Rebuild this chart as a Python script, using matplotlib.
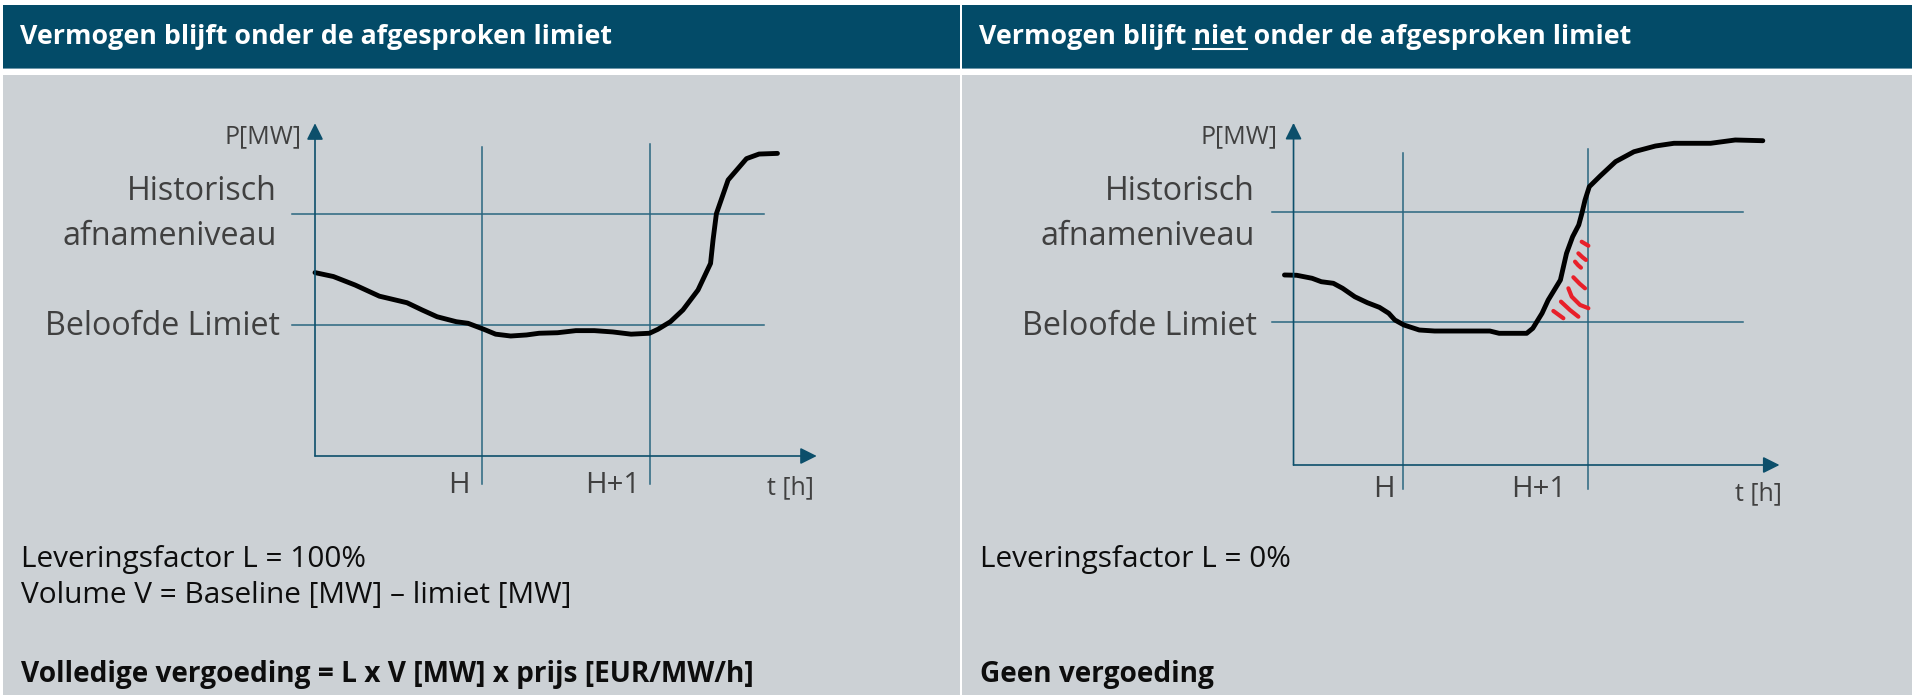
import matplotlib
matplotlib.use('Agg')
import matplotlib.pyplot as plt
from matplotlib.patches import Rectangle

HEADER = '#034b68'
GREY = '#ccd1d5'
LINE = '#2a6680'
AXIS = '#0c4f6b'
LABEL = '#404040'
RED = '#e8202a'

plt.rcParams['font.family'] = ['Open Sans', 'DejaVu Sans']

# --- data (t in hours, H = 1, H+1 = 2; P relative to the promised limit = 1) ---
titles = ["Vermogen blijft onder de afgesproken limiet",
          "Vermogen blijft niet onder de afgesproken limiet"]
time_labels = ["H", "H+1"]
time_marks = [1.0, 2.0]
level_labels = [["Historisch", "afnameniveau"], ["Beloofde Limiet"]]

left_levels = [1.85, 1.0]      # historisch, limiet
right_levels = [1.768, 1.0]

left_t = [0.00, 0.11, 0.24, 0.385, 0.55, 0.64, 0.73, 0.845, 0.915, 1.01, 1.08,
          1.17, 1.265, 1.34, 1.45, 1.56, 1.67, 1.78, 1.89, 2.0, 2.05, 2.125,
          2.20, 2.29, 2.365, 2.38, 2.40, 2.47, 2.58, 2.655, 2.765]
left_p = [1.40, 1.37, 1.305, 1.22, 1.17, 1.115, 1.063, 1.025, 1.013, 0.967, 0.93,
          0.916, 0.924, 0.937, 0.941, 0.957, 0.957, 0.947, 0.93, 0.937, 0.967, 1.025,
          1.115, 1.267, 1.47, 1.65, 1.85, 2.107, 2.27, 2.305, 2.31]

right_t = [0.361, 0.427, 0.51, 0.56, 0.625, 0.675, 0.741, 0.808, 0.874, 0.924,
           0.957, 1.006, 1.089, 1.172, 1.305, 1.47, 1.52, 1.669, 1.702, 1.752,
           1.785, 1.851, 1.884, 1.917, 1.95, 1.967, 1.984, 2.007, 2.066, 2.149,
           2.248, 2.364, 2.464, 2.662, 2.795, 2.944]
right_p = [1.326, 1.324, 1.303, 1.279, 1.268, 1.233, 1.174, 1.133, 1.10, 1.059,
           1.012, 0.977, 0.942, 0.935, 0.935, 0.935, 0.919, 0.919, 0.954, 1.059,
           1.151, 1.291, 1.477, 1.593, 1.675, 1.756, 1.849, 1.942, 2.017, 2.117,
           2.186, 2.226, 2.245, 2.245, 2.268, 2.263]

# red hatch strokes between curve and H+1 (right panel)
hatch_t = [[1.966, 2.002], [1.948, 1.970, 1.989], [1.930, 1.946, 1.962],
           [1.921, 1.955, 1.984], [1.894, 1.912, 1.957, 2.002],
           [1.854, 1.903, 1.948], [1.813, 1.867]]
hatch_p = [[1.558, 1.530], [1.477, 1.450, 1.431], [1.419, 1.395, 1.377],
           [1.310, 1.265, 1.233], [1.233, 1.175, 1.117, 1.094],
           [1.140, 1.081, 1.035], [1.075, 1.024]]

bottom_left = ["Leveringsfactor L = 100%", "Volume V = Baseline [MW] \u2013 limiet [MW]"]
bottom_left_bold = "Volledige vergoeding = L x V [MW] x prijs [EUR/MW/h]"
bottom_right = ["Leveringsfactor L = 0%"]
bottom_right_bold = "Geen vergoeding"

W, H = 1912, 695
fig = plt.figure(figsize=(W / 100, H / 100), dpi=100)
bg = fig.add_axes([0, 0, 1, 1])
bg.set_xlim(0, W)
bg.set_ylim(H, 0)
bg.axis('off')
renderer = fig.canvas.get_renderer()


def text_width(s, size, weight='normal'):
    t = bg.text(0, 0, s, fontsize=size, fontweight=weight)
    w = t.get_window_extent(renderer).width
    t.remove()
    return w


def fit_size(s, width_px, weight='normal'):
    # font size that makes s about width_px wide
    return 20 * width_px / text_width(s, 20, weight)


title_fs = fit_size(titles[0], 590, 'bold')
body_fs = fit_size(bottom_left[1], 550)
bold_fs = fit_size(bottom_left_bold, 734, 'bold')
level_fs = fit_size(level_labels[1][0], 235)
time_fs = fit_size(time_labels[1], 55)
axis_fs = fit_size("P[MW]", 77)

panels = [(3, 960), (962, 1912)]
for x0, x1 in panels:
    bg.add_patch(Rectangle((x0, 5), x1 - x0, 63, color=HEADER, lw=0))
    bg.add_patch(Rectangle((x0, 67.5), x1 - x0, 1.5, color='#6e97aa', lw=0))
    bg.add_patch(Rectangle((x0, 75), x1 - x0, H - 75, color=GREY, lw=0))

# titles
bg.text(20, 44, titles[0], color='white', fontsize=title_fs, fontweight='bold', va='baseline')
bg.text(979, 44, titles[1], color='white', fontsize=title_fs, fontweight='bold', va='baseline')

# underline "niet"
w_full = text_width("Vermogen blijft niet", title_fs, 'bold')
w_niet = text_width("niet", title_fs, 'bold')
bg.plot([979 + w_full - w_niet, 979 + w_full], [48.5, 48.5], color='white', lw=1.5)

# bottom texts
for i, s in enumerate(bottom_left):
    bg.text(21, [567, 603][i], s, fontsize=body_fs, va='baseline', color='#0d0d0d')
bg.text(21, 682, bottom_left_bold, fontsize=bold_fs, fontweight='bold', va='baseline', color='#0d0d0d')
bg.text(980, 567, bottom_right[0], fontsize=body_fs, va='baseline', color='#0d0d0d')
bg.text(980, 682, bottom_right_bold, fontsize=bold_fs, fontweight='bold', va='baseline', color='#0d0d0d')


def make_chart(px_left, px_right, x0px, sx, y0px, sy):
    ax = fig.add_axes([px_left / W, 0, (px_right - px_left) / W, (H - 75) / H])
    ax.set_xlim((px_left - x0px) / sx, (px_right - x0px) / sx)
    ax.set_ylim((y0px - H) / sy, (y0px - 75) / sy)
    ax.axis('off')
    ax.patch.set_alpha(0)
    return ax


def draw_chart(ax, origin, levels, hspan, vspans, ytip, xtip, t, p, lab):
    arrow = dict(arrowstyle='-|>,head_length=0.5,head_width=0.25', color=AXIS,
                 lw=1.2, mutation_scale=20, shrinkA=0, shrinkB=0)
    ax.annotate('', xy=(origin, ytip), xytext=(origin, 0), arrowprops=arrow)
    ax.annotate('', xy=(xtip, 0), xytext=(origin, 0), arrowprops=arrow)
    for lev in levels:
        ax.plot(hspan, [lev, lev], color=LINE, lw=1.1)
    for tm, vs in zip(time_marks, vspans):
        ax.plot([tm, tm], vs, color=LINE, lw=1.1)
    ax.plot(t, p, color='black', lw=3.5, solid_capstyle='round', solid_joinstyle='round')

    ax.text(*lab['P'], "P[MW]", ha='right', va='baseline', fontsize=axis_fs, color=LABEL)
    ax.text(*lab['hist1'], level_labels[0][0], ha='right', va='baseline', fontsize=level_fs, color=LABEL)
    ax.text(*lab['hist2'], level_labels[0][1], ha='right', va='baseline', fontsize=level_fs, color=LABEL)
    ax.text(*lab['lim'], level_labels[1][0], ha='right', va='baseline', fontsize=level_fs, color=LABEL)
    for s, pos in zip(time_labels, lab['time']):
        ax.text(*pos, s, ha='right', va='baseline', fontsize=time_fs, color=LABEL)
    ax.text(*lab['t'], "t [h]", ha='center', va='baseline', fontsize=axis_fs, color=LABEL)


# left panel
axl = make_chart(3, 960, 315, 167.25, 456, 131)
draw_chart(axl, 0.0, left_levels, [-0.14, 2.685], [[-0.21, 2.36], [-0.21, 2.38]],
           2.54, 3.0, left_t, left_p,
           {'P': (-0.078, 2.39), 'hist1': (-0.227, 1.954), 'hist2': (-0.227, 1.611),
            'lim': (-0.209, 0.924), 'time': [(0.927, -0.285), (1.943, -0.285)],
            't': (2.84, -0.29)})

# right panel
axr = make_chart(962, 1912, 1217.6, 185.2, 465, 143.3)
draw_chart(axr, 0.41, right_levels, [0.294, 2.837], [[-0.167, 2.18], [-0.167, 2.205]],
           2.387, 3.034, right_t, right_p,
           {'P': (0.326, 2.247), 'hist1': (0.202, 1.849), 'hist2': (0.202, 1.535),
            'lim': (0.213, 0.907), 'time': [(0.957, -0.221), (1.884, -0.221)],
            't': (2.921, -0.244)})
for ht, hp in zip(hatch_t, hatch_p):
    axr.plot(ht, hp, color=RED, lw=3.0, solid_capstyle='round')

fig.savefig('out.png', dpi=100)
